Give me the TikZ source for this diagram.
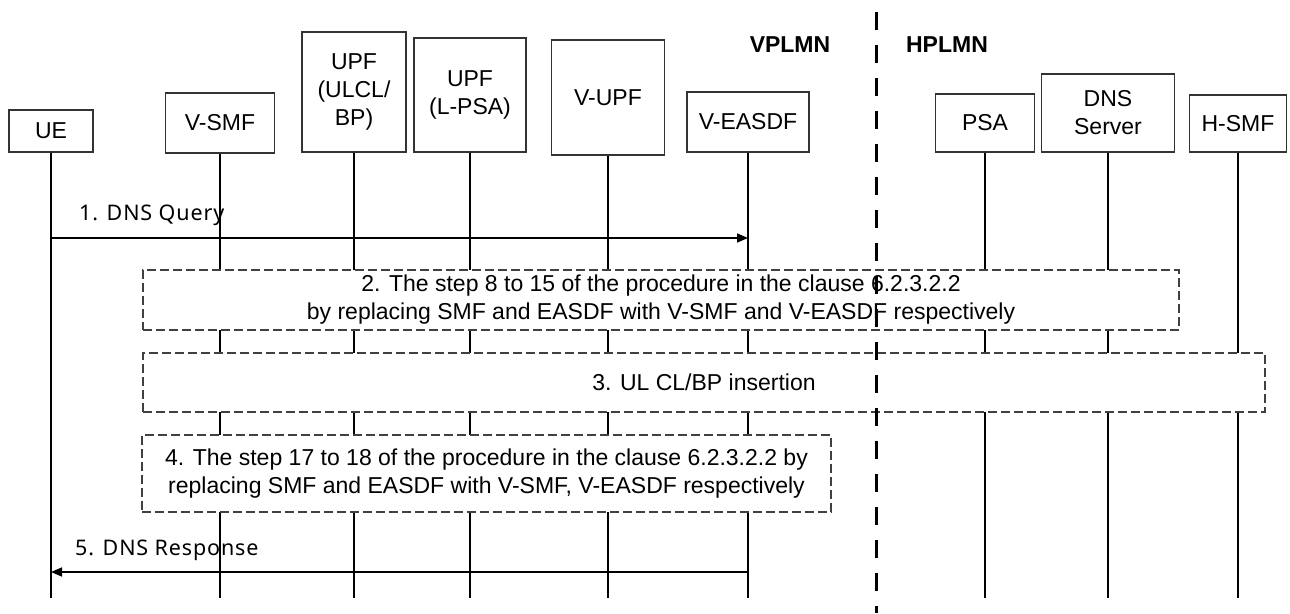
\documentclass[tikz,border=0pt]{standalone}
\usepackage{fontspec}
\setmainfont{Liberation Sans}
\newfontfamily\msgfont[LetterSpace=4]{Noto Sans}
\usetikzlibrary{arrows.meta}

\begin{document}
\begin{tikzpicture}[x=1pt,y=-1pt,
  party/.style={draw=black!80,line width=1.1pt,align=center,inner sep=0pt,font=\fontsize{23}{28}\selectfont},
  stepbox/.style={draw=black!75,fill=white,line width=1.2pt,dash pattern=on 9pt off 4pt,align=center,inner sep=0pt,font=\fontsize{23}{28}\selectfont},
  life/.style={line width=1.5pt},
  msg/.style={line width=1.6pt,-{Triangle[length=11pt,width=9pt]}},
  msglabel/.style={anchor=west,inner sep=0pt,font=\msgfont\fontsize{21.5}{24}\selectfont},
  plmn/.style={font=\bfseries\fontsize{23}{28}\selectfont,inner sep=0pt}]
\useasboundingbox (0,0) rectangle (1290,613);

\node [party,minimum width=84pt,minimum height=42pt] (ue) at (51,131) {UE};
\node [party,minimum width=109pt,minimum height=60pt] (vsmf) at (220,123) {V-SMF};
\node [party,minimum width=104pt,minimum height=120pt] (ulcl) at (354,92) {UPF\\(ULCL/\\BP)};
\node [party,minimum width=112pt,minimum height=114pt] (lpsa) at (470,95) {UPF\\(L-PSA)};
\node [party,minimum width=113pt,minimum height=115pt] (vupf) at (608,97.5) {V-UPF};
\node [party,minimum width=122pt,minimum height=60pt] (veasdf) at (748,122) {V-EASDF};
\node [party,minimum width=99pt,minimum height=58pt] (psa) at (985,123) {PSA};
\node [party,minimum width=133pt,minimum height=78pt] (dns) at (1108,113) {DNS\\Server};
\node [party,minimum width=97pt,minimum height=57pt] (hsmf) at (1238,123.5) {H-SMF};

\node [plmn] (vplmn) at (790,45) {VPLMN};
\node [plmn] (hplmn) at (947,45) {HPLMN};

\coordinate (bot) at (0,598);
\foreach \n in {ue,vsmf,ulcl,lpsa,vupf,veasdf,psa,dns,hsmf}
  \draw [life] (\n.south) -- (\n |- bot);

\coordinate (q1) at (0,238);
\draw [msg] (ue |- q1) -- (veasdf |- q1);
\node [msglabel] (l1) at (79,215) {1. DNS Query};

\node [stepbox,minimum width=1036pt,minimum height=60pt] (s2) at (661,300)
  {2. The step 8 to 15 of the procedure in the clause 6.2.3.2.2\\by replacing SMF and EASDF with V-SMF and V-EASDF respectively};
\node [stepbox,minimum width=1122pt,minimum height=59pt] (s3) at (704,382.5)
  {3. UL CL/BP insertion};
\node [stepbox,minimum width=689pt,minimum height=77pt] (s4) at (486.5,473.5)
  {4. The step 17 to 18 of the procedure in the clause 6.2.3.2.2 by\\replacing SMF and EASDF with V-SMF, V-EASDF respectively};

\coordinate (q5) at (0,572);
\draw [msg] (veasdf |- q5) -- (ue |- q5);
\node [msglabel] (l5) at (75,550) {5. DNS Response};

\coordinate (divtop) at (876,12);
\coordinate (divbot) at (876,613);
\draw [line width=3pt,dash pattern=on 18pt off 15pt] (divtop) -- (divbot);

\end{tikzpicture}
\end{document}
